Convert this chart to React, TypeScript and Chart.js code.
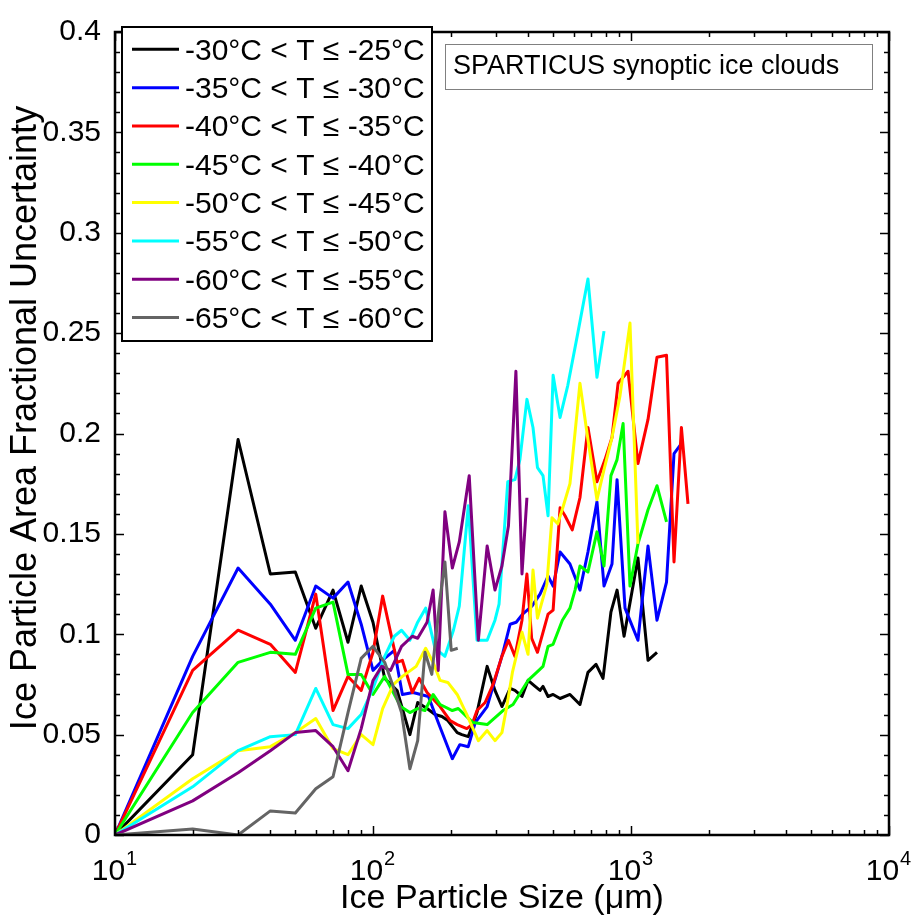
import React, { useEffect, useRef } from 'react';
import { Chart, registerables } from 'chart.js';

Chart.register(...registerables);

const FONT = '"Liberation Sans", Arial, Helvetica, sans-serif';

const seriesLabels = [
  '-30°C < T ≤ -25°C',
  '-35°C < T ≤ -30°C',
  '-40°C < T ≤ -35°C',
  '-45°C < T ≤ -40°C',
  '-50°C < T ≤ -45°C',
  '-55°C < T ≤ -50°C',
  '-60°C < T ≤ -55°C',
  '-65°C < T ≤ -60°C',
];
const seriesColors = ['#000000', '#0000ff', '#ff0000', '#00ff00', '#ffff00', '#00ffff', '#800080', '#646464'];

// -30 < T <= -25
const size25 = [10, 20, 30, 40, 50, 60, 70, 80, 90, 100, 111, 124, 139, 149, 162, 174, 185, 195, 212, 221, 234, 253, 277, 297, 316, 340, 355, 378, 399, 425, 444, 456, 477, 499, 531, 580, 634, 681, 732, 779, 836, 883, 940, 1064, 1164, 1261];
const unc25 = [0, 0.040, 0.197, 0.130, 0.131, 0.103, 0.122, 0.096, 0.124, 0.106, 0.078, 0.072, 0.050, 0.066, 0.063, 0.060, 0.059, 0.057, 0.051, 0.050, 0.049, 0.061, 0.084, 0.072, 0.064, 0.073, 0.072, 0.069, 0.077, 0.074, 0.072, 0.074, 0.069, 0.070, 0.068, 0.070, 0.065, 0.081, 0.085, 0.078, 0.111, 0.122, 0.099, 0.138, 0.087, 0.091];

// -35 < T <= -30
const size30 = [10, 20, 30, 40, 50, 60, 70, 80, 90, 100, 111, 121, 130, 143, 164, 179, 203, 217, 234, 249, 277, 319, 340, 359, 380, 413, 444, 477, 499, 531, 580, 634, 681, 738, 786, 844, 883, 948, 1064, 1164, 1261, 1373, 1468, 1568];
const unc30 = [0, 0.089, 0.133, 0.115, 0.097, 0.124, 0.118, 0.126, 0.105, 0.082, 0.088, 0.092, 0.070, 0.071, 0.069, 0.056, 0.038, 0.045, 0.044, 0.056, 0.064, 0.091, 0.105, 0.106, 0.110, 0.114, 0.120, 0.129, 0.124, 0.141, 0.135, 0.122, 0.141, 0.166, 0.124, 0.135, 0.177, 0.113, 0.097, 0.144, 0.107, 0.126, 0.190, 0.195];

// -40 < T <= -35
const size35 = [10, 20, 30, 40, 50, 60, 70, 80, 90, 100, 109, 124, 130, 142, 151, 162, 182, 199, 212, 231, 242, 253, 272, 292, 316, 335, 355, 378, 395, 412, 434, 477, 499, 531, 555, 592, 634, 681, 738, 793, 844, 891, 974, 1064, 1164, 1261, 1373, 1468, 1568, 1663];
const unc35 = [0, 0.082, 0.102, 0.095, 0.081, 0.120, 0.062, 0.079, 0.072, 0.091, 0.119, 0.086, 0.087, 0.071, 0.078, 0.071, 0.064, 0.057, 0.055, 0.053, 0.055, 0.062, 0.066, 0.075, 0.089, 0.097, 0.089, 0.107, 0.130, 0.098, 0.091, 0.110, 0.112, 0.163, 0.159, 0.152, 0.168, 0.203, 0.176, 0.187, 0.198, 0.225, 0.231, 0.185, 0.207, 0.238, 0.239, 0.136, 0.203, 0.165];

// -45 < T <= -40
const size40 = [10, 20, 30, 40, 50, 60, 70, 80, 90, 100, 111, 128, 139, 149, 159, 171, 182, 203, 214, 244, 277, 319, 349, 399, 431, 456, 477, 499, 542, 580, 607, 634, 681, 738, 786, 836, 883, 932, 991, 1064, 1164, 1261, 1373];
const unc40 = [0, 0.061, 0.086, 0.091, 0.090, 0.113, 0.116, 0.080, 0.080, 0.070, 0.079, 0.064, 0.061, 0.063, 0.062, 0.070, 0.065, 0.062, 0.063, 0.056, 0.055, 0.062, 0.065, 0.077, 0.081, 0.084, 0.094, 0.095, 0.107, 0.113, 0.122, 0.134, 0.131, 0.151, 0.134, 0.179, 0.187, 0.205, 0.124, 0.145, 0.162, 0.174, 0.156];

// -50 < T <= -45
const size45 = [10, 20, 30, 40, 50, 60, 70, 80, 90, 100, 109, 120, 130, 147, 160, 171, 182, 195, 212, 231, 256, 277, 297, 316, 330, 347, 378, 399, 417, 434, 472, 494, 520, 544, 580, 634, 681, 738, 786, 844, 907, 991, 1064];
const unc45 = [0, 0.028, 0.042, 0.044, 0.051, 0.058, 0.043, 0.040, 0.050, 0.045, 0.063, 0.075, 0.079, 0.084, 0.093, 0.086, 0.077, 0.076, 0.070, 0.060, 0.047, 0.052, 0.047, 0.051, 0.064, 0.081, 0.101, 0.090, 0.132, 0.108, 0.125, 0.158, 0.155, 0.163, 0.175, 0.225, 0.197, 0.167, 0.182, 0.198, 0.219, 0.255, 0.145];

// -55 < T <= -50
const size50 = [10, 20, 30, 40, 50, 60, 70, 80, 90, 100, 111, 121, 129, 139, 149, 160, 174, 190, 205, 216, 234, 253, 277, 297, 308, 333, 355, 371, 395, 417, 434, 456, 477, 499, 531, 569, 622, 681, 738, 786];
const unc50 = [0, 0.024, 0.042, 0.049, 0.050, 0.073, 0.055, 0.053, 0.060, 0.073, 0.089, 0.099, 0.102, 0.097, 0.106, 0.113, 0.093, 0.089, 0.102, 0.114, 0.164, 0.097, 0.097, 0.107, 0.115, 0.176, 0.177, 0.187, 0.217, 0.203, 0.183, 0.179, 0.159, 0.229, 0.208, 0.224, 0.250, 0.277, 0.228, 0.251];

// -60 < T <= -55
const size55 = [10, 20, 30, 40, 50, 60, 70, 80, 90, 100, 108, 117, 129, 142, 149, 162, 171, 179, 190, 203, 216, 236, 256, 277, 297, 316, 335, 358, 378, 395];
const unc55 = [0, 0.017, 0.031, 0.042, 0.051, 0.052, 0.044, 0.032, 0.053, 0.077, 0.084, 0.082, 0.094, 0.099, 0.098, 0.106, 0.122, 0.082, 0.161, 0.133, 0.146, 0.179, 0.097, 0.144, 0.122, 0.134, 0.154, 0.231, 0.130, 0.168];

// -65 < T <= -60
const size60 = [10, 20, 30, 40, 50, 60, 70, 80, 90, 100, 111, 119, 129, 139, 149, 159, 169, 182, 190, 201, 213];
const unc60 = [0, 0.003, 0, 0.012, 0.011, 0.023, 0.029, 0.061, 0.088, 0.094, 0.086, 0.075, 0.061, 0.033, 0.047, 0.091, 0.080, 0.118, 0.136, 0.092, 0.093];

const seriesSizes = [size25, size30, size35, size40, size45, size50, size55, size60];
const seriesUnc = [unc25, unc30, unc35, unc40, unc45, unc50, unc55, unc60];

const xDecades = [10, 100, 1000, 10000];
const xDecadeExponents = ['1', '2', '3', '4'];
const yMinorStep = 0.01;
const yMajorStep = 0.05;
const xTitle = 'Ice Particle Size (μm)';
const yTitle = 'Ice Particle Area Fractional Uncertainty';
const noteText = 'SPARTICUS synoptic ice clouds';

const framePlugin = {
  id: 'matlabFrame',
  afterDraw(chart: any) {
    const ctx: CanvasRenderingContext2D = chart.ctx;
    const { left, right, top, bottom } = chart.chartArea;
    const xs = chart.scales.x;
    const ys = chart.scales.y;
    ctx.save();
    ctx.strokeStyle = '#000';
    ctx.lineWidth = 1.5;
    const seg = (x1: number, y1: number, x2: number, y2: number) => {
      ctx.beginPath();
      ctx.moveTo(x1, y1);
      ctx.lineTo(x2, y2);
      ctx.stroke();
    };
    // y ticks (inward, left and right)
    const nY = Math.round(0.4 / yMinorStep);
    for (let i = 0; i <= nY; i++) {
      const v = i * yMinorStep;
      const py = Math.round(ys.getPixelForValue(v)) + 0.5;
      const major = i % Math.round(yMajorStep / yMinorStep) === 0;
      const L = major ? 9 : 5;
      seg(left, py, left + L, py);
      seg(right, py, right - L, py);
    }
    // x ticks (inward, bottom and top)
    for (let d = 0; d < xDecades.length; d++) {
      for (let k = 1; k <= 9; k++) {
        const v = xDecades[d] * k;
        if (v > 10000) break;
        const px = Math.round(xs.getPixelForValue(v)) + 0.5;
        const L = k === 1 ? 9 : 5;
        seg(px, bottom, px, bottom - L);
        seg(px, top, px, top + L);
      }
    }
    // frame
    ctx.lineWidth = 2.5;
    ctx.strokeRect(left, top, right - left, bottom - top);

    // x tick labels with superscripts
    ctx.fillStyle = '#000';
    ctx.textBaseline = 'alphabetic';
    ctx.textAlign = 'left';
    for (let d = 0; d < xDecades.length; d++) {
      const px = xs.getPixelForValue(xDecades[d]);
      ctx.font = `30px ${FONT}`;
      const w1 = ctx.measureText('10').width;
      ctx.font = `20px ${FONT}`;
      const w2 = ctx.measureText(xDecadeExponents[d]).width;
      const x0 = px - (w1 + w2) / 2 - 1;
      ctx.font = `30px ${FONT}`;
      ctx.fillText('10', x0, bottom + 45);
      ctx.font = `20px ${FONT}`;
      ctx.fillText(xDecadeExponents[d], x0 + w1 + 1, bottom + 30);
    }

    // y axis title
    ctx.save();
    ctx.translate(26, 418);
    ctx.rotate(-Math.PI / 2);
    ctx.font = `36px ${FONT}`;
    ctx.textAlign = 'center';
    ctx.textBaseline = 'middle';
    ctx.fillStyle = '#000';
    ctx.fillText(yTitle, 0, 0);
    ctx.restore();

    // legend
    const lx = 122, ly = 27, lw = 310, lh = 314;
    ctx.fillStyle = '#fff';
    ctx.fillRect(lx, ly, lw, lh);
    ctx.lineWidth = 2;
    ctx.strokeStyle = '#000';
    ctx.strokeRect(lx, ly, lw, lh);
    ctx.font = `30px ${FONT}`;
    ctx.textBaseline = 'middle';
    ctx.textAlign = 'left';
    for (let i = 0; i < seriesLabels.length; i++) {
      const y = 49.3 + 38.33 * i;
      ctx.strokeStyle = seriesColors[i];
      ctx.lineWidth = 3;
      seg(132, y, 179, y);
      ctx.fillStyle = '#000';
      ctx.fillText(seriesLabels[i], 185, y + 2);
    }

    // annotation box
    ctx.fillStyle = '#fff';
    ctx.fillRect(445, 44, 427, 45);
    ctx.strokeStyle = '#808080';
    ctx.lineWidth = 1;
    ctx.strokeRect(445.5, 44.5, 427, 45);
    ctx.fillStyle = '#000';
    ctx.font = `27px ${FONT}`;
    ctx.fillText(noteText, 453, 67);
    ctx.restore();
  },
};

export default function App() {
  const canvasRef = useRef<HTMLCanvasElement | null>(null);

  useEffect(() => {
    const canvas = canvasRef.current;
    if (!canvas) return;
    const datasets = seriesLabels.map((label, i) => ({
      label,
      data: seriesSizes[i].map((x, j) => ({ x, y: seriesUnc[i][j] })),
      borderColor: seriesColors[i],
      backgroundColor: seriesColors[i],
      borderWidth: 3,
      pointRadius: 0,
      tension: 0,
      fill: false,
      borderJoinStyle: 'round' as const,
      order: seriesLabels.length - i,
    }));
    const chart = new Chart(canvas, {
      type: 'line',
      data: { datasets },
      plugins: [framePlugin],
      options: {
        animation: false,
        responsive: false,
        events: [],
        layout: { padding: { top: 20, right: 26, left: 0, bottom: 0 } },
        plugins: {
          legend: { display: false },
          tooltip: { enabled: false },
          title: { display: false },
        },
        scales: {
          x: {
            type: 'logarithmic',
            min: 10,
            max: 10000,
            ticks: { display: false },
            grid: { display: false, drawTicks: false },
            border: { display: false },
            title: {
              display: true,
              text: xTitle,
              color: '#000',
              font: { family: FONT, size: 34 },
              padding: { top: 0, bottom: 0 },
            },
            afterFit: (s: any) => {
              s.height = 84;
            },
          },
          y: {
            type: 'linear',
            min: 0,
            max: 0.4,
            ticks: {
              stepSize: 0.05,
              color: '#000',
              padding: 14,
              font: { family: FONT, size: 30 },
              callback: (v: any) => String(parseFloat(Number(v).toFixed(2))),
            },
            grid: { display: false, drawTicks: false },
            border: { display: false },
            title: { display: false },
            afterFit: (s: any) => {
              s.width = 115;
            },
          },
        },
      } as any,
    });
    return () => chart.destroy();
  }, []);

  return (
    <div style={{ position: 'fixed', left: 0, top: 0, width: 915, height: 919, background: '#fff' }}>
      <canvas ref={canvasRef} width={915} height={919} style={{ display: 'block' }} />
    </div>
  );
}
